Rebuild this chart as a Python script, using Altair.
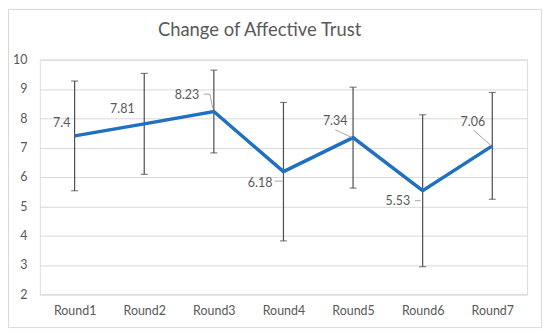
import altair as alt
import pandas as pd

# ---- data ----
chart_title = "Change of Affective Trust"
rounds = ["Round1", "Round2", "Round3", "Round4", "Round5", "Round6", "Round7"]
means = [7.40, 7.81, 8.23, 6.18, 7.34, 5.53, 7.06]
sds = [1.87, 1.72, 1.41, 2.36, 1.72, 2.59, 1.82]
labels = ["7.4", "7.81", "8.23", "6.18", "7.34", "5.53", "7.06"]
y_ticks = [2, 3, 4, 5, 6, 7, 8, 9, 10]

df = pd.DataFrame({"round": rounds, "mean": means, "sd": sds, "label": labels})
df["lo"] = df["mean"] - df["sd"]
df["hi"] = df["mean"] + df["sd"]

# ---- styling ----
W, H = 490, 236
FONT = "Lato"
TXT = "#595959"
GRID = "#D9D9D9"
BLUE = "#1F70C1"
ERR = "#4D4D4D"
LEADER = "#A6A6A6"

# label placement (pixel offsets from the data point)
label_dxdy = {
    "Round1": (-13, -13),
    "Round2": (-22, -14.5),
    "Round3": (-27, -17),
    "Round4": (-23.5, 11),
    "Round5": (-18, -17),
    "Round6": (-25, 10.5),
    "Round7": (-19.5, -24),
}
leader_segments = {
    "Round3": [((-10, -17.5), (-4, -17.5)), ((-4, -17.5), (-1, -3))],
    "Round4": [((-9, 9.5), (-1, 9.5))],
    "Round5": [((-18, -8), (-1, 0))],
    "Round6": [((-8, 10), (-2, 10))],
    "Round7": [((-19, -16), (-1, 0))],
}

xscale = alt.Scale(type="point", padding=0.5, domain=rounds)
yscale = alt.Scale(domain=[2, 10], nice=False, zero=False)
xaxis = alt.Axis(title=None, ticks=False, domain=True, domainColor=GRID, domainWidth=1,
                 grid=False, labelFont=FONT, labelFontSize=12.5, labelColor=TXT,
                 labelPadding=10, labelAngle=0)
yaxis = alt.Axis(title=None, ticks=False, domain=False, values=y_ticks, grid=True,
                 gridColor=GRID, gridWidth=1, labelFont=FONT, labelFontSize=12.5,
                 labelColor=TXT, labelPadding=13)

X = alt.X("round:N", scale=xscale, axis=xaxis, sort=rounds)

base = alt.Chart(df)

err_rule = base.mark_rule(color=ERR, strokeWidth=1.2).encode(
    x=X, y=alt.Y("lo:Q", scale=yscale, axis=yaxis), y2="hi:Q"
)
cap_lo = base.mark_tick(color=ERR, thickness=1.2, size=7, orient="horizontal").encode(
    x=X, y=alt.Y("lo:Q", scale=yscale, axis=yaxis)
)
cap_hi = base.mark_tick(color=ERR, thickness=1.2, size=7, orient="horizontal").encode(
    x=X, y=alt.Y("hi:Q", scale=yscale, axis=yaxis)
)
line = base.mark_line(color=BLUE, strokeWidth=3.5, strokeJoin="miter").encode(
    x=X, y=alt.Y("mean:Q", scale=yscale, axis=yaxis)
)

layers = [err_rule, cap_lo, cap_hi, line]

for r, segs in leader_segments.items():
    for (x1, y1), (x2, y2) in segs:
        layers.append(
            base.transform_filter(alt.datum.round == r)
            .mark_rule(color=LEADER, strokeWidth=1,
                       xOffset=x1, yOffset=y1, x2Offset=x2, y2Offset=y2)
            .encode(x=X, x2="round:N",
                    y=alt.Y("mean:Q", scale=yscale, axis=yaxis), y2="mean:Q")
        )

for r, (dx, dy) in label_dxdy.items():
    layers.append(
        base.transform_filter(alt.datum.round == r)
        .mark_text(dx=dx, dy=dy, align="center", baseline="middle",
                   font=FONT, fontSize=12.5, color=TXT)
        .encode(x=X, y=alt.Y("mean:Q", scale=yscale, axis=yaxis), text="label:N")
    )

one = alt.Chart(pd.DataFrame({"t": [chart_title]}))

title_text = one.mark_text(
    font=FONT, fontSize=18.5, color=TXT, align="center", baseline="middle", clip=False
).encode(x=alt.value(221), y=alt.value(-30), text="t:N")
layers.append(title_text)

border = one.mark_rect(
    fillOpacity=0, stroke=GRID, strokeWidth=1, clip=False
).encode(
    x=alt.value(-31.5), x2=alt.value(W + 14.5),
    y=alt.value(-50.5), y2=alt.value(H + 33.5)
)
layers.append(border)

chart = alt.layer(*layers).properties(
    width=W, height=H,
    autosize=alt.AutoSizeParams(type="none"),
    padding={"left": 32, "top": 51, "right": 15, "bottom": 34},
).configure_view(stroke=None).configure(background="white")

chart.save("out.html", embed_options={"renderer": "svg", "actions": False})
